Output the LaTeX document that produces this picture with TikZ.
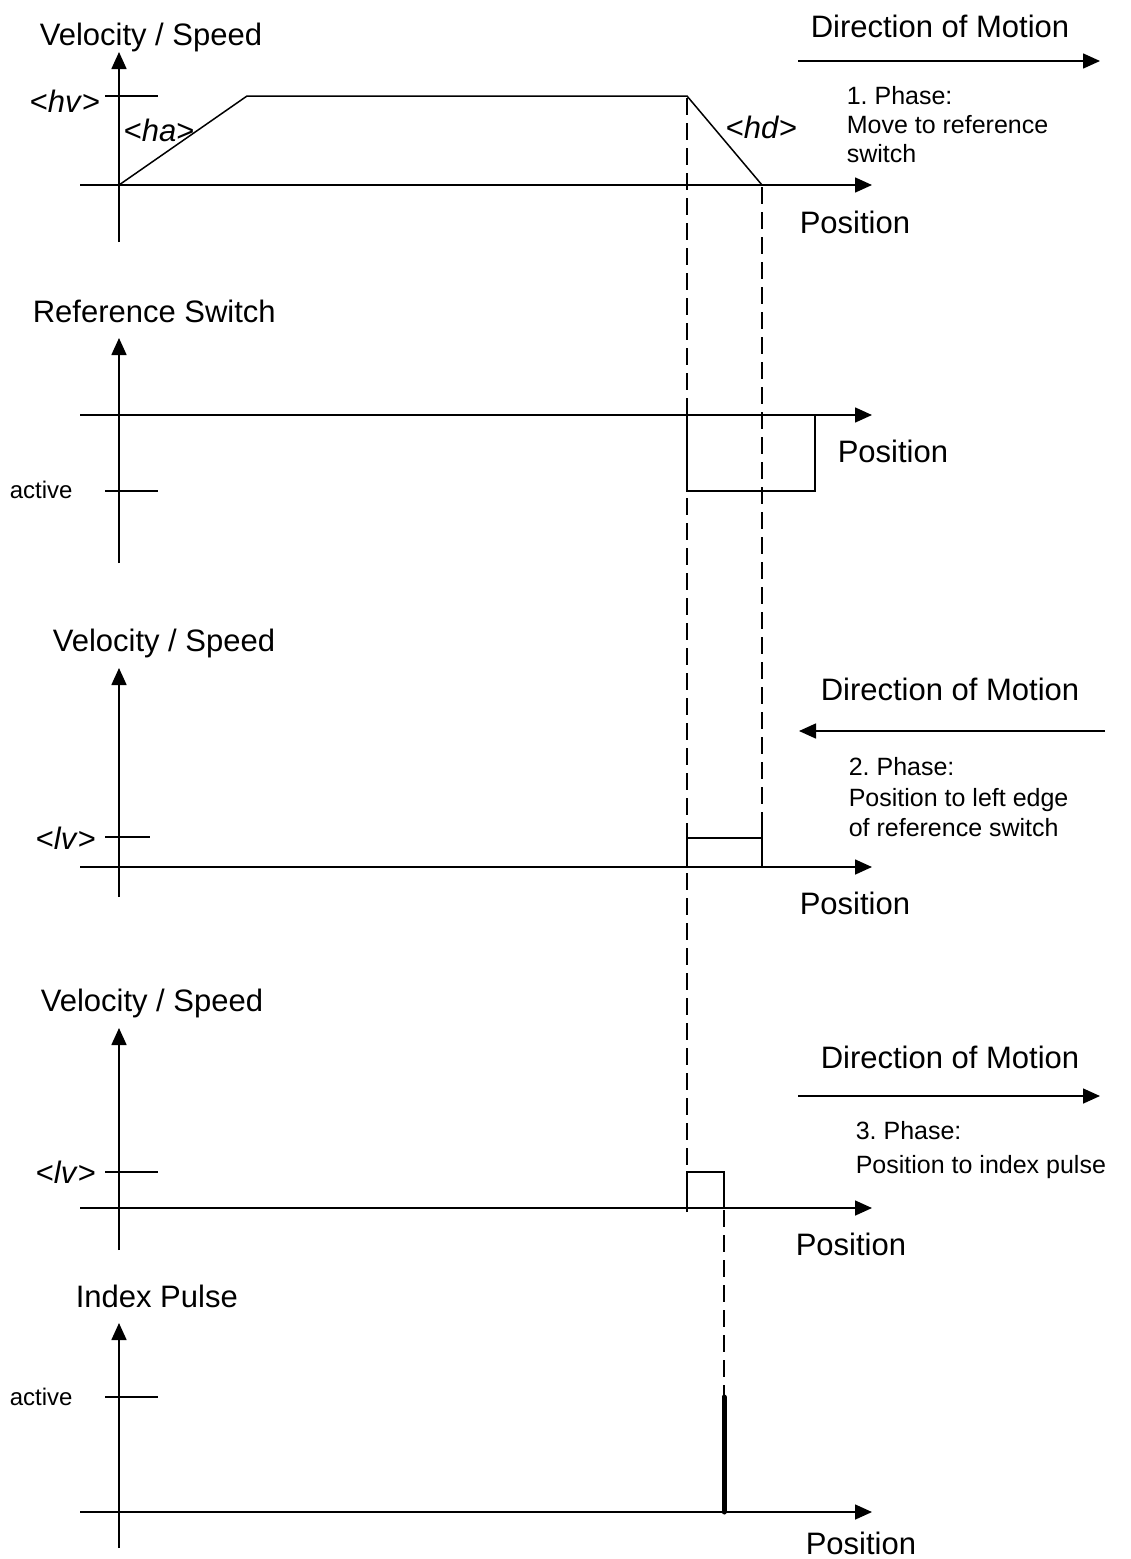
\documentclass[tikz,border=0pt]{standalone}
\usepackage{fontspec}
\setmainfont{Liberation Sans}
\usetikzlibrary{arrows.meta}
\frenchspacing
\begin{document}
\begin{tikzpicture}[x=1pt,y=-1pt,
  line width=1.6pt,
  axis/.style={-{Triangle[length=17pt,width=15pt]}},
  tickline/.style={line width=1.3pt},
  sig/.style={line width=1.5pt},
  guide/.style={line width=1.8pt,dash pattern=on 17pt off 8pt},
  big/.style={font=\fontsize{31}{36}\selectfont,anchor=base west,inner sep=0pt},
  small/.style={font=\fontsize{25}{29}\selectfont,anchor=base west,inner sep=0pt},
  tiny/.style={font=\fontsize{24}{28}\selectfont,anchor=base west,inner sep=0pt}]
\useasboundingbox (0,0) rectangle (1131,1559);

% ---------- panel 1: velocity profile of phase 1 ----------
\coordinate (a1b) at (119,242); \coordinate (a1t) at (119,52);
\coordinate (h1l) at (80,185);  \coordinate (h1r) at (872,185);
\coordinate (hvl) at (105,96);  \coordinate (hvr) at (158,96);
\coordinate (p1a) at (119,185); \coordinate (p1b) at (247,96);
\coordinate (p1c) at (687,96);  \coordinate (p1d) at (762,185);
\draw[axis] (a1b) -- (a1t);
\draw[axis] (h1l) -- (h1r);
\draw[tickline] (hvl) -- (hvr);
\draw[sig] (p1a) -- (p1b) -- (p1c) -- (p1d);
\node[big] (t1) at (39,45) {Velocity / Speed};
\node[big] (hv) at (29,112) {<\textit{hv}>};
\node[big] (ha) at (123,141) {<\textit{ha}>};
\node[big] (hd) at (725,138) {<\textit{hd}>};
\node[big] (pos1) at (799,233) {Position};
\node[big] (dir1) at (810,37) {Direction of Motion};
\coordinate (d1s) at (798,61); \coordinate (d1e) at (1100,61);
\draw[axis] (d1s) -- (d1e);
\node[small] (ph1a) at (846,104) {1. Phase:};
\node[small] (ph1b) at (846,133) {Move to reference};
\node[small] (ph1c) at (846,162) {switch};

% ---------- panel 2: reference switch ----------
\coordinate (a2b) at (119,563); \coordinate (a2t) at (119,338);
\coordinate (h2l) at (80,415);  \coordinate (h2r) at (872,415);
\coordinate (acl) at (105,491); \coordinate (acr) at (158,491);
\coordinate (s2a) at (687,415); \coordinate (s2b) at (687,491);
\coordinate (s2c) at (815,491); \coordinate (s2d) at (815,415);
\draw[axis] (a2b) -- (a2t);
\draw[axis] (h2l) -- (h2r);
\draw[tickline] (acl) -- (acr);
\draw[sig] (s2a) -- (s2b) -- (s2c) -- (s2d);
\node[big] (t2) at (32,322) {Reference Switch};
\node[tiny] (act2) at (9,498) {active};
\node[big] (pos2) at (837,462) {Position};

% ---------- panel 3: velocity profile of phase 2 ----------
\coordinate (a3b) at (119,897); \coordinate (a3t) at (119,668);
\coordinate (h3l) at (80,867);  \coordinate (h3r) at (872,867);
\coordinate (lv3l) at (105,837); \coordinate (lv3r) at (150,837);
\coordinate (q3a) at (687,867); \coordinate (q3b) at (687,838);
\coordinate (q3c) at (762,838); \coordinate (q3d) at (762,867);
\coordinate (q3e) at (762,813);
\draw[axis] (a3b) -- (a3t);
\draw[axis] (h3l) -- (h3r);
\draw[tickline] (lv3l) -- (lv3r);
\draw[sig] (q3a) -- (q3b) -- (q3c) -- (q3d);
\draw[sig] (q3e) -- (q3d);
\node[big] (t3) at (52,651) {Velocity / Speed};
\node[big] (lv3) at (35,849) {<\textit{lv}>};
\node[big] (pos3) at (799,914) {Position};
\node[big] (dir3) at (820,700) {Direction of Motion};
\coordinate (d3s) at (1105,731); \coordinate (d3e) at (799,731);
\draw[axis] (d3s) -- (d3e);
\node[small] (ph2a) at (848,775) {2. Phase:};
\node[small] (ph2b) at (848,806) {Position to left edge};
\node[small] (ph2c) at (848,836) {of reference switch};

% ---------- panel 4: velocity profile of phase 3 ----------
\coordinate (a4b) at (119,1250); \coordinate (a4t) at (119,1028);
\coordinate (h4l) at (80,1208);  \coordinate (h4r) at (872,1208);
\coordinate (lv4l) at (105,1172); \coordinate (lv4r) at (158,1172);
\coordinate (q4a) at (687,1212); \coordinate (q4b) at (687,1172);
\coordinate (q4c) at (724,1172); \coordinate (q4d) at (724,1208);
\draw[axis] (a4b) -- (a4t);
\draw[axis] (h4l) -- (h4r);
\draw[tickline] (lv4l) -- (lv4r);
\draw[sig] (q4a) -- (q4b) -- (q4c) -- (q4d);
\node[big] (t4) at (40,1011) {Velocity / Speed};
\node[big] (lv4) at (35,1183) {<\textit{lv}>};
\node[big] (pos4) at (795,1255) {Position};
\node[big] (dir4) at (820,1068) {Direction of Motion};
\coordinate (d4s) at (798,1096); \coordinate (d4e) at (1100,1096);
\draw[axis] (d4s) -- (d4e);
\node[small] (ph3a) at (855,1139) {3. Phase:};
\node[small] (ph3b) at (855,1173) {Position to index pulse};

% ---------- panel 5: index pulse ----------
\coordinate (a5b) at (119,1548); \coordinate (a5t) at (119,1323);
\coordinate (h5l) at (80,1512);  \coordinate (h5r) at (872,1512);
\coordinate (ac5l) at (105,1397); \coordinate (ac5r) at (158,1397);
\coordinate (ipt) at (724,1397); \coordinate (ipb) at (724,1512);
\draw[axis] (a5b) -- (a5t);
\draw[axis] (h5l) -- (h5r);
\draw[tickline] (ac5l) -- (ac5r);
\draw[line width=5pt,line cap=round] (ipb) -- (ipt);
\node[big] (t5) at (75,1307) {Index Pulse};
\node[tiny] (act5) at (9,1405) {active};
\node[big] (pos5) at (805,1554) {Position};

% ---------- vertical guide lines ----------
\coordinate (g1t) at (687,98);  \coordinate (g1b) at (687,1183);
\coordinate (g2t) at (762,187); \coordinate (g2b) at (762,838);
\coordinate (g3t) at (724,1210); \coordinate (g3b) at (724,1397);
\draw[guide] (g1t) -- (g1b);
\draw[guide] (g2t) -- (g2b);
\draw[guide] (g3t) -- (g3b);
\end{tikzpicture}
\end{document}
